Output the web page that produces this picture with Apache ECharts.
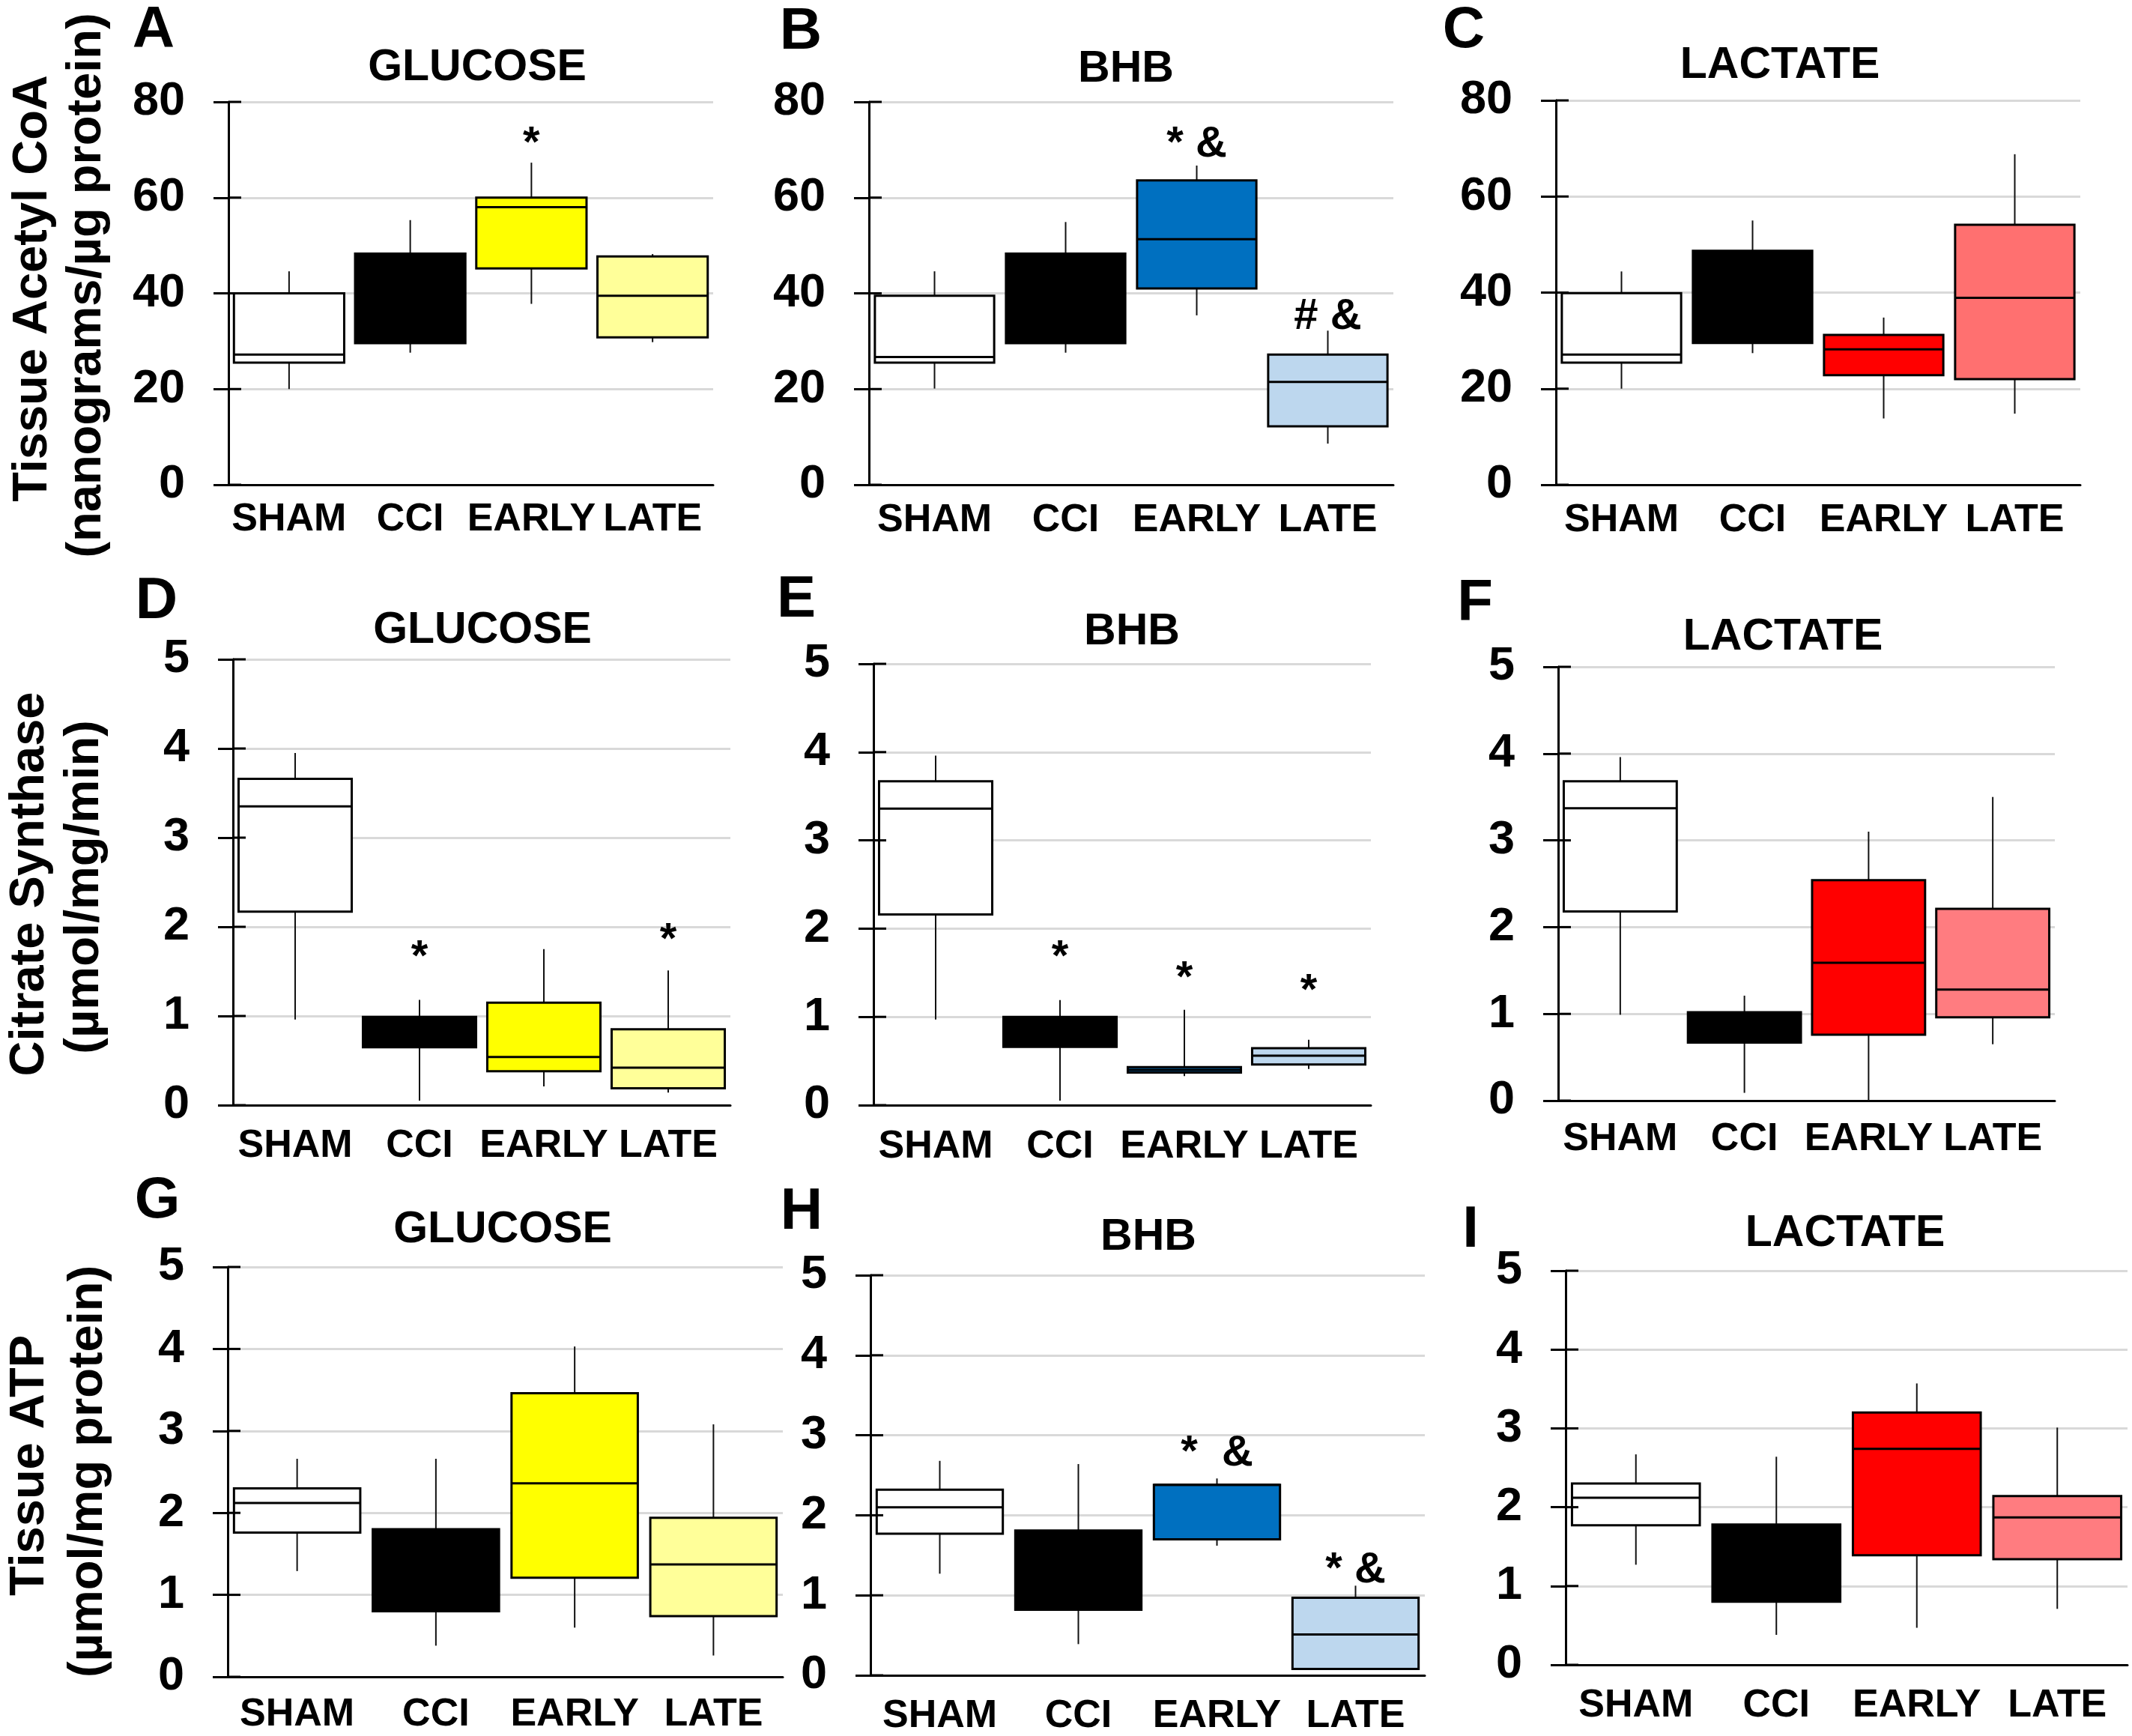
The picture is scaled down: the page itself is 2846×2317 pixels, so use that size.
<!DOCTYPE html>
<html><head><meta charset="utf-8">
<script src="https://cdn.jsdelivr.net/npm/echarts@6/dist/echarts.min.js"></script>
<style>html,body{margin:0;padding:0;background:#fff}#c{width:2846px;height:2317px}</style>
</head><body><div id="c"></div>
<script>
// ---------- DATA ----------
const categories = ['SHAM', 'CCI', 'EARLY', 'LATE'];
const ticksAcetyl = [0, 20, 40, 60, 80];
const ticksRate = [0, 1, 2, 3, 4, 5];
const panelTitles = ['GLUCOSE', 'BHB', 'LACTATE', 'GLUCOSE', 'BHB', 'LACTATE', 'GLUCOSE', 'BHB', 'LACTATE'];
const panelLetters = ['A', 'B', 'C', 'D', 'E', 'F', 'G', 'H', 'I'];
const rowTitles = [
  ['Tissue Acetyl CoA', '(nanograms/\u00b5g protein)'],
  ['Citrate Synthase', '(\u00b5mol/mg/min)'],
  ['Tissue ATP', '(\u00b5mol/mg protein)']
];
// box values: [min, Q1, median, Q3, max] for SHAM, CCI, EARLY, LATE
const acetylGlucose = [[20, 25.5, 27.2, 40, 44.6], [27.6, 29.6, 38, 48.3, 55.3], [37.8, 45.2, 58, 60, 67.3], [29.8, 30.8, 39.5, 47.7, 48.2]];
const acetylBHB     = [[20.1, 25.5, 26.7, 39.5, 44.6], [27.6, 29.6, 38, 48.3, 54.9], [35.4, 41, 51.3, 63.6, 66.7], [8.6, 12.2, 21.5, 27.2, 32.2]];
const acetylLactate = [[20, 25.4, 27.1, 39.9, 44.4], [27.4, 29.5, 38, 48.7, 55], [13.8, 22.8, 28.2, 31.2, 34.8], [14.8, 22, 38.9, 54.1, 68.8]];
const csGlucose     = [[0.96, 2.17, 3.35, 3.66, 3.95], [0.05, 0.65, 0.85, 0.99, 1.18], [0.21, 0.38, 0.54, 1.15, 1.75], [0.14, 0.19, 0.42, 0.85, 1.51]];
const csBHB         = [[0.97, 2.16, 3.36, 3.67, 3.96], [0.05, 0.66, 0.85, 1.0, 1.19], [0.33, 0.37, 0.40, 0.43, 1.08], [0.41, 0.46, 0.56, 0.645, 0.74]];
const csLactate     = [[0.99, 2.18, 3.37, 3.68, 3.96], [0.09, 0.67, 0.85, 1.02, 1.21], [0.0, 0.76, 1.59, 2.54, 3.1], [0.65, 0.96, 1.28, 2.21, 3.5]];
const atpGlucose    = [[1.29, 1.76, 2.12, 2.30, 2.66], [0.38, 0.80, 1.30, 1.80, 2.66], [0.60, 1.21, 2.36, 3.46, 4.03], [0.26, 0.74, 1.37, 1.94, 3.08]];
const atpBHB        = [[1.27, 1.77, 2.10, 2.32, 2.68], [0.39, 0.82, 1.30, 1.81, 2.64], [1.62, 1.70, 2.38, 2.38, 2.46], [0.07, 0.08, 0.51, 0.97, 1.12]];
const atpLactate    = [[1.27, 1.77, 2.12, 2.30, 2.67], [0.38, 0.80, 1.30, 1.78, 2.64], [0.47, 1.39, 2.74, 3.20, 3.57], [0.71, 1.34, 1.87, 2.14, 3.01]];
// significance marks: [category index, value, text]
const marksAcetylGlucose = [[2, 71, '*']];
const marksAcetylBHB     = [[2, 71, '* &'], [3, 35, '# &']];
const marksAcetylLactate = [];
const marksCsGlucose     = [[1, 1.65, '*'], [3, 1.84, '*']];
const marksCsBHB         = [[1, 1.66, '*'], [2, 1.43, '*'], [3, 1.28, '*']];
const marksCsLactate     = [];
const marksAtpGlucose    = [];
const marksAtpBHB        = [[2, 2.77, '*  &'], [3, 1.31, '* &']];
const marksAtpLactate    = [];

// ---------- STYLE / LAYOUT ----------
const FONT = '"Liberation Sans", Arial, Helvetica, sans-serif';
const glucoseColors = ['#ffffff', '#000000', '#ffff00', '#ffff99'];
const bhbColors = ['#ffffff', '#000000', '#0070c0', '#bdd7ee'];
const lactateColorsTop = ['#ffffff', '#000000', '#ff0000', '#ff7070'];
const lactateColors = ['#ffffff', '#000000', '#ff0000', '#ff7c80'];

const panels = [
  {data: acetylGlucose, marks: marksAcetylGlucose, ticks: ticksAcetyl, colors: glucoseColors, grid: [305, 136, 647, 511], title: [637, 91], letter: [205, 41], lm: 21},
  {data: acetylBHB, marks: marksAcetylBHB, ticks: ticksAcetyl, colors: bhbColors, grid: [1160, 136, 700, 511], title: [1503, 93], letter: [1069, 43], lm: 22},
  {data: acetylLactate, marks: marksAcetylLactate, ticks: ticksAcetyl, colors: lactateColorsTop, grid: [2077, 134, 700, 513], title: [2376, 88], letter: [1954, 41], lm: 22},
  {data: csGlucose, marks: marksCsGlucose, ticks: ticksRate, colors: glucoseColors, grid: [311, 880, 664, 595], title: [644, 842], letter: [209, 803], lm: 29},
  {data: csBHB, marks: marksCsBHB, ticks: ticksRate, colors: bhbColors, grid: [1166, 886, 664, 589], title: [1511, 844], letter: [1063, 801], lm: 30},
  {data: csLactate, marks: marksCsLactate, ticks: ticksRate, colors: lactateColors, grid: [2080, 890, 663, 579], title: [2380, 851], letter: [1969, 806], lm: 26},
  {data: atpGlucose, marks: marksAtpGlucose, ticks: ticksRate, colors: glucoseColors, grid: [304, 1691, 741, 547], title: [671, 1642], letter: [210, 1603], lm: 25},
  {data: atpBHB, marks: marksAtpBHB, ticks: ticksRate, colors: bhbColors, grid: [1162, 1702, 740, 536], title: [1533, 1652], letter: [1070, 1618], lm: 29},
  {data: atpLactate, marks: marksAtpLactate, ticks: ticksRate, colors: lactateColors, grid: [2090, 1696, 750, 526], title: [2463, 1647], letter: [1963, 1642], lm: 29}
];
const rowTitlePos = [
  [[44, 385], [116, 381]],
  [[40, 1180], [113, 1184]],
  [[40, 1956], [118, 1964]]
];

function boxRenderer(colors) {
  return function (params, api) {
    const i = api.value(0);
    const pMin = api.coord([i, api.value(1)]);
    const pQ1 = api.coord([i, api.value(2)]);
    const pMd = api.coord([i, api.value(3)]);
    const pQ3 = api.coord([i, api.value(4)]);
    const pMax = api.coord([i, api.value(5)]);
    const bw = api.size([1, 0])[0] * 0.91;
    const cx = pMin[0];
    const ws = {stroke: '#111', lineWidth: 2};
    return {type: 'group', children: [
      {type: 'line', shape: {x1: cx, y1: pMax[1], x2: cx, y2: pQ3[1]}, style: ws},
      {type: 'line', shape: {x1: cx, y1: pQ1[1], x2: cx, y2: pMin[1]}, style: ws},
      {type: 'rect', shape: {x: cx - bw / 2, y: pQ3[1], width: bw, height: pQ1[1] - pQ3[1]},
        style: {fill: colors[params.dataIndex], stroke: '#000', lineWidth: 3}},
      {type: 'line', shape: {x1: cx - bw / 2, y1: pMd[1], x2: cx + bw / 2, y2: pMd[1]}, style: {stroke: '#000', lineWidth: 3}}
    ]};
  };
}
function markRenderer(marks) {
  return function (params, api) {
    const p = api.coord([api.value(0), api.value(1)]);
    return {type: 'text', x: p[0], y: p[1], style: {
      text: marks[params.dataIndex][2], font: 'bold 58px ' + FONT, fill: '#000',
      align: 'center', verticalAlign: 'middle', textAlign: 'center', textVerticalAlign: 'middle'}};
  };
}
// short tick marks pointing into the plot, at the y-axis line
function innerTickRenderer(params, api) {
  const p = api.coord([0, api.value(1)]);
  const x0 = p[0] - api.size([1, 0])[0] / 2;
  return {type: 'line', shape: {x1: x0, y1: p[1], x2: x0 + 17, y2: p[1]}, style: {stroke: '#000', lineWidth: 3}};
}

const grids = [], xAxes = [], yAxes = [], series = [], graphics = [];
panels.forEach((p, g) => {
  const t = p.ticks;
  const mn = t[0], mx = t[t.length - 1], iv = t[1] - t[0];
  grids.push({left: p.grid[0], top: p.grid[1], width: p.grid[2], height: p.grid[3], containLabel: false});
  xAxes.push({gridIndex: g, type: 'category', data: categories, position: 'bottom',
    axisLine: {show: true, lineStyle: {color: '#000', width: 3}},
    axisTick: {show: false},
    axisLabel: {color: '#000', fontFamily: FONT, fontWeight: 'bold', fontSize: 52, margin: p.lm, interval: 0},
    splitLine: {show: false}});
  yAxes.push({gridIndex: g, type: 'value', min: mn, max: mx, interval: iv, position: 'left',
    axisLine: {show: true, lineStyle: {color: '#000', width: 3}},
    axisTick: {show: true, length: 20, lineStyle: {color: '#000', width: 3}},
    axisLabel: {color: '#000', fontFamily: FONT, fontWeight: 'bold', fontSize: 63, margin: 58},
    splitLine: {show: true, lineStyle: {color: '#d9d9d9', width: 3}}});
  series.push({type: 'custom', xAxisIndex: g, yAxisIndex: g, z: 5,
    renderItem: boxRenderer(p.colors),
    encode: {x: 0, y: [1, 2, 3, 4, 5]},
    data: p.data.map((v, i) => [i].concat(v))});
  series.push({type: 'custom', xAxisIndex: g, yAxisIndex: g, z: 7, silent: true,
    renderItem: innerTickRenderer,
    encode: {x: 0, y: 1},
    data: t.map(v => [0, v])});
  if (p.marks.length) {
    series.push({type: 'custom', xAxisIndex: g, yAxisIndex: g, z: 6,
      renderItem: markRenderer(p.marks),
      encode: {x: 0, y: 1},
      data: p.marks.map(m => [m[0], m[1]])});
  }
  graphics.push({type: 'text', x: p.title[0], y: p.title[1], style: {text: panelTitles[g], font: 'bold 59px ' + FONT, fill: '#000', align: 'center', verticalAlign: 'middle', textAlign: 'center', textVerticalAlign: 'middle'}});
  graphics.push({type: 'text', x: p.letter[0], y: p.letter[1], style: {text: panelLetters[g], font: 'bold 78px ' + FONT, fill: '#000', align: 'center', verticalAlign: 'middle', textAlign: 'center', textVerticalAlign: 'middle'}});
});
rowTitles.forEach((lines, r) => {
  lines.forEach((txt, k) => {
    const pos = rowTitlePos[r][k];
    graphics.push({type: 'text', x: pos[0], y: pos[1], rotation: Math.PI / 2,
      style: {text: txt, font: 'bold 65px ' + FONT, fill: '#000', align: 'center', verticalAlign: 'middle', textAlign: 'center', textVerticalAlign: 'middle'}});
  });
});

const chart = echarts.init(document.getElementById('c'), null, {renderer: 'canvas'});
chart.setOption({
  backgroundColor: '#ffffff',
  animation: false,
  grid: grids, xAxis: xAxes, yAxis: yAxes, series: series,
  graphic: graphics
});
</script></body></html>
